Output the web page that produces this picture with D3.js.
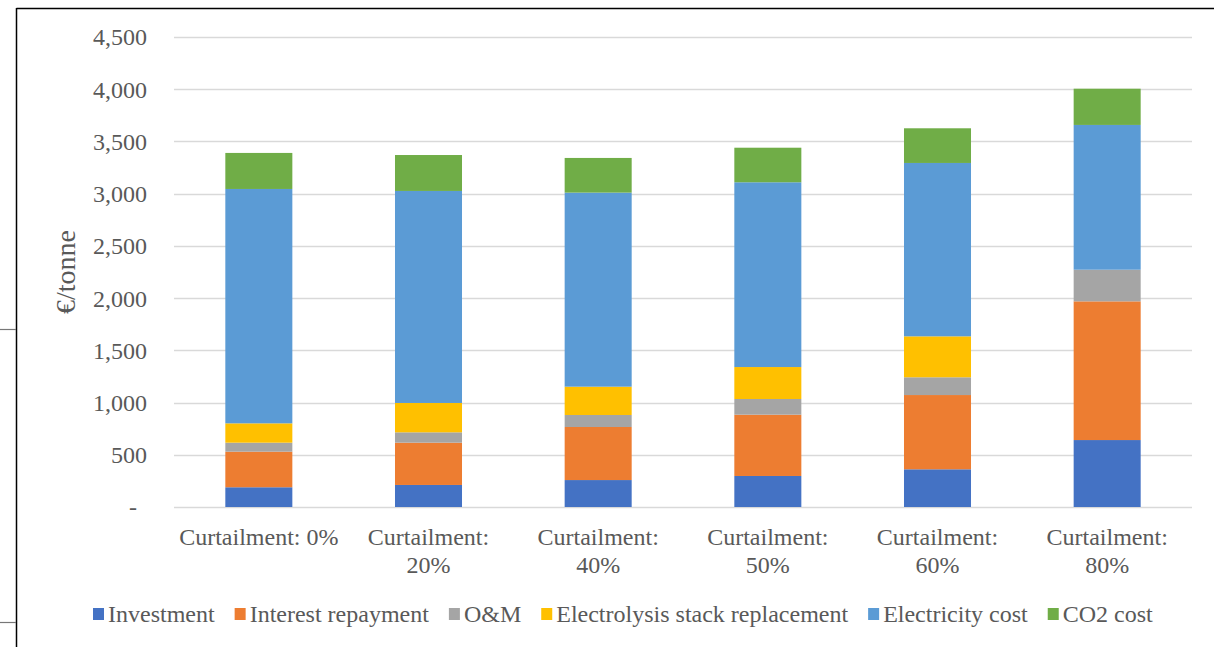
<!DOCTYPE html>
<html>
<head>
<meta charset="utf-8">
<script src="https://cdn.jsdelivr.net/npm/d3@7"></script>
<style>
  html, body { margin: 0; padding: 0; background: #fff; }
  svg { display: block; }
</style>
</head>
<body>
<svg id="chart" width="1214" height="647"></svg>
<script>
// Cost breakdown per curtailment level (€/tonne)
const categories = ["Curtailment: 0%", "Curtailment: 20%", "Curtailment: 40%", "Curtailment: 50%", "Curtailment: 60%", "Curtailment: 80%"];
const seriesNames = ["Investment", "Interest repayment", "O&M", "Electrolysis stack replacement", "Electricity cost", "CO2 cost"];
const investment = [189, 211, 258, 297, 361, 641];
const interestRepayment = [341, 405, 508, 587, 711, 1328];
const oAndM = [86, 99, 115, 150, 170, 303];
const stackReplacement = [185, 281, 271, 306, 392, 0];
const electricityCost = [2244, 2030, 1858, 1769, 1660, 1386];
const co2Cost = [345, 344, 332, 331, 332, 347];
const yTicks = [0, 500, 1000, 1500, 2000, 2500, 3000, 3500, 4000, 4500];
const colors = ["#4472C4", "#ED7D31", "#A5A5A5", "#FFC000", "#5B9BD5", "#70AD47"];

const FONT = "'Times New Roman', 'Liberation Serif', 'DejaVu Serif', serif";
const TEXT_COLOR = "#595959";
const FS = 24;

const seriesValues = [investment, interestRepayment, oAndM, stackReplacement, electricityCost, co2Cost];
const rows = categories.map((c, i) => {
  const r = { category: c };
  seriesNames.forEach((s, k) => { r[s] = seriesValues[k][i]; });
  return r;
});

const svg = d3.select("#chart").style("font-family", FONT);

// Outer frame fragments
svg.append("line").attr("x1", 16.5).attr("x2", 1214).attr("y1", 8.5).attr("y2", 8.5)
  .attr("stroke", "#000").attr("stroke-width", 1.5);
svg.append("line").attr("x1", 16.5).attr("x2", 16.5).attr("y1", 8).attr("y2", 647)
  .attr("stroke", "#000").attr("stroke-width", 1.5);
[329, 622].forEach(y => {
  svg.append("line").attr("x1", 0).attr("x2", 16).attr("y1", y + 0.5).attr("y2", y + 0.5)
    .attr("stroke", "#777").attr("stroke-width", 1.2);
});

const plot = { left: 174, right: 1192, top: 37, bottom: 507 };

const x = d3.scaleBand().domain(categories).range([plot.left, plot.right]).paddingInner(0.605).paddingOuter(0.3025);
const y = d3.scaleLinear().domain([0, 4500]).range([plot.bottom, plot.top]);

// Gridlines
svg.append("g").selectAll("line").data(yTicks).join("line")
  .attr("x1", plot.left).attr("x2", plot.right)
  .attr("y1", d => Math.round(y(d)) + 0.5).attr("y2", d => Math.round(y(d)) + 0.5)
  .attr("stroke", "#D9D9D9").attr("stroke-width", 1.3);

// Y axis labels
const fmt = d3.format(",");
const yAxis = d3.axisLeft(y).tickValues(yTicks).tickSize(0).tickPadding(0)
  .tickFormat(d => d === 0 ? "-" : fmt(d));
const yg = svg.append("g").attr("transform", `translate(147,0)`).call(yAxis)
  .attr("font-family", FONT).attr("font-size", FS);
yg.select(".domain").remove();
yg.selectAll("text").attr("fill", TEXT_COLOR).attr("dy", "0.33em")
  .filter(d => d === 0).attr("text-anchor", "middle").attr("dx", -14);

// Y axis title
svg.append("text").attr("transform", "translate(75,272) rotate(-90)")
  .attr("text-anchor", "middle").attr("font-size", 28).attr("fill", TEXT_COLOR)
  .attr("font-family", FONT).text("€/tonne");

// Stacked bars
const stack = d3.stack().keys(seriesNames)(rows);
svg.append("g").selectAll("g").data(stack).join("g")
  .attr("fill", (d, i) => colors[i])
  .selectAll("rect").data(d => d).join("rect")
  .attr("x", d => x(d.data.category))
  .attr("width", x.bandwidth())
  .attr("y", d => y(d[1]))
  .attr("height", d => y(d[0]) - y(d[1]));

// Category labels (wrapped after the colon)
const xl = svg.append("g").attr("font-family", FONT).attr("font-size", FS).attr("fill", TEXT_COLOR);
categories.forEach(c => {
  const cx = x(c) + x.bandwidth() / 2;
  const lines = c === categories[0] ? [c] : [c.slice(0, c.indexOf(":") + 1), c.slice(c.indexOf(":") + 2)];
  lines.forEach((ln, j) => {
    xl.append("text").attr("x", cx).attr("y", 545 + j * 28)
      .attr("text-anchor", "middle").text(ln);
  });
});

// Legend
const legend = svg.append("g").attr("font-family", FONT).attr("font-size", FS).attr("fill", TEXT_COLOR);
let lx = 93;
seriesNames.forEach((s, i) => {
  legend.append("rect").attr("x", lx).attr("y", 608).attr("width", 11).attr("height", 12).attr("fill", colors[i]);
  const t = legend.append("text").attr("x", lx + 15).attr("y", 622).text(s);
  lx += 15 + t.node().getComputedTextLength() + 20;
});
</script>
</body>
</html>
